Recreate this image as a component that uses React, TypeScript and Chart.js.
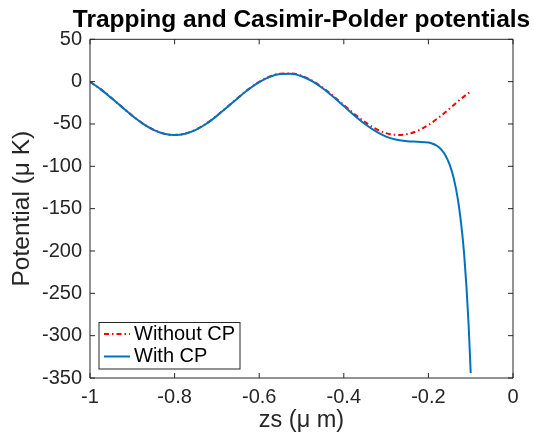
import React, { useEffect, useRef } from "react";
import { Chart, registerables } from "chart.js";

Chart.register(...registerables);

const titleText = "Trapping and Casimir-Polder potentials";
const xLabel = "zs (\u03bc m)";
const yLabel = "Potential (\u03bc K)";
const seriesLabels = ["Without CP", "With CP"];

const zsWithout = [
  -1, -0.975, -0.95, -0.925, -0.9, -0.875, -0.85, -0.825, -0.8, -0.775, -0.75, -0.725,
  -0.7, -0.675, -0.65, -0.625, -0.6, -0.575, -0.55, -0.525, -0.5, -0.475, -0.45, -0.425,
  -0.4, -0.375, -0.35, -0.325, -0.3, -0.275, -0.25, -0.225, -0.2, -0.175, -0.15, -0.125, -0.1,
];
const potWithout = [
  -0.3, -8.8, -19.0, -29.7, -40.2, -49.5, -56.8, -61.4, -63.0, -61.4, -56.8, -49.5,
  -40.2, -29.7, -19.0, -8.8, -0.3, 6.0, 9.4, 9.7, 6.9, 1.2, -7.0, -16.9,
  -27.6, -38.2, -47.8, -55.5, -60.8, -62.9, -62.0, -58.0, -51.2, -42.2, -31.9, -21.1, -11.5,
];

const zsWith = [
  -1, -0.975, -0.95, -0.925, -0.9, -0.875, -0.85, -0.825, -0.8, -0.775, -0.75, -0.725,
  -0.7, -0.675, -0.65, -0.625, -0.6, -0.575, -0.55, -0.525, -0.5, -0.475, -0.45, -0.425,
  -0.4, -0.375, -0.35, -0.325, -0.3, -0.275, -0.25, -0.225, -0.2, -0.19, -0.18, -0.17,
  -0.16, -0.15, -0.14, -0.13, -0.12, -0.115, -0.11, -0.105, -0.1,
];
const potWith = [
  -0.3, -8.8, -19.1, -29.8, -40.3, -49.6, -56.9, -61.5, -63.1, -61.5, -57.0, -49.7,
  -40.4, -29.9, -19.2, -9.0, -0.55, 5.7, 9.0, 9.3, 6.4, 0.6, -7.8, -17.9,
  -28.9, -39.9, -50.0, -58.5, -64.9, -68.7, -70.5, -71.0, -72.0, -73.3, -75.7, -79.9,
  -86.9, -97.7, -114.3, -139.9, -179.6, -207.3, -242.3, -286.6, -344.0,
];

const X_MIN = -1;
const X_MAX = 0;
const X_STEP = 0.2;
const Y_MIN = -350;
const Y_MAX = 50;
const Y_STEP = 50;

const FONT = "'Liberation Sans', Arial, Helvetica, sans-serif";
const AXIS_COLOR = "#262626";

const boxAndTicks = {
  id: "boxAndTicks",
  afterDatasetsDraw(chart: any) {
    const { ctx, chartArea } = chart;
    const { left, right, top, bottom } = chartArea;
    const xs = chart.scales.x;
    const ys = chart.scales.y;
    const tl = 5;
    ctx.save();
    ctx.strokeStyle = AXIS_COLOR;
    ctx.lineWidth = 1;
    ctx.beginPath();
    ctx.rect(left, top, right - left, bottom - top);
    ctx.stroke();
    ctx.beginPath();
    xs.ticks.forEach((t: any) => {
      const px = xs.getPixelForValue(t.value);
      ctx.moveTo(px, bottom);
      ctx.lineTo(px, bottom - tl);
      ctx.moveTo(px, top);
      ctx.lineTo(px, top + tl);
    });
    ys.ticks.forEach((t: any) => {
      const py = ys.getPixelForValue(t.value);
      ctx.moveTo(left, py);
      ctx.lineTo(left + tl, py);
      ctx.moveTo(right, py);
      ctx.lineTo(right - tl, py);
    });
    ctx.stroke();
    ctx.restore();
  },
};

const plotTitle = {
  id: "plotTitle",
  afterDraw(chart: any) {
    const { ctx, chartArea } = chart;
    ctx.save();
    ctx.font = `bold 24.5px ${FONT}`;
    ctx.fillStyle = "#000000";
    ctx.textAlign = "center";
    ctx.textBaseline = "alphabetic";
    ctx.fillText(titleText, (chartArea.left + chartArea.right) / 2, 27);
    ctx.restore();
  },
};

const insideLegend = {
  id: "insideLegend",
  afterDraw(chart: any) {
    const { ctx, chartArea } = chart;
    const bx = chartArea.left + 9;
    const by = chartArea.bottom - 55.5;
    const bw = 141;
    const bh = 46.5;
    ctx.save();
    ctx.fillStyle = "#ffffff";
    ctx.fillRect(bx, by, bw, bh);
    ctx.strokeStyle = AXIS_COLOR;
    ctx.lineWidth = 1;
    ctx.strokeRect(bx, by, bw, bh);
    ctx.font = `20px ${FONT}`;
    ctx.textBaseline = "middle";
    ctx.textAlign = "left";
    const rows = [chart.data.datasets[0], chart.data.datasets[1]];
    rows.forEach((ds: any, i: number) => {
      const cy = by + 11.5 + i * 22.5;
      ctx.strokeStyle = ds.borderColor;
      ctx.lineWidth = ds.borderWidth;
      ctx.setLineDash(ds.borderDash || []);
      ctx.beginPath();
      ctx.moveTo(bx + 5, cy);
      ctx.lineTo(bx + 31, cy);
      ctx.stroke();
      ctx.setLineDash([]);
      ctx.fillStyle = "#000000";
      ctx.fillText(ds.label, bx + 35, cy);
    });
    ctx.restore();
  },
};

export default function App() {
  const ref = useRef<HTMLCanvasElement | null>(null);
  useEffect(() => {
    if (!ref.current) return;
    const chart = new Chart(ref.current, {
      type: "line",
      data: {
        datasets: [
          {
            label: seriesLabels[0],
            data: zsWithout.map((x, i) => ({ x, y: potWithout[i] })),
            borderColor: "#ff0000",
            borderWidth: 2,
            borderDash: [5, 3, 1.5, 3],
            pointRadius: 0,
            fill: false,
            cubicInterpolationMode: "monotone",
            order: 1,
          },
          {
            label: seriesLabels[1],
            data: zsWith.map((x, i) => ({ x, y: potWith[i] })),
            borderColor: "#0072bd",
            borderWidth: 2,
            pointRadius: 0,
            fill: false,
            cubicInterpolationMode: "monotone",
            order: 0,
          },
        ],
      },
      options: {
        responsive: false,
        animation: false,
        devicePixelRatio: 1,
        layout: { padding: { left: 0, right: 21, top: 39.3, bottom: 0 } },
        plugins: {
          legend: { display: false },
          tooltip: { enabled: false },
          title: { display: false },
        },
        scales: {
          x: {
            type: "linear",
            position: "bottom",
            min: X_MIN,
            max: X_MAX,
            grid: { display: false, drawTicks: false },
            border: { display: false },
            ticks: {
              stepSize: X_STEP,
              padding: 7,
              color: AXIS_COLOR,
              font: { family: FONT, size: 20 },
              maxRotation: 0,
              callback: (v: any) => String(Number(Number(v).toFixed(1))),
            },
            title: {
              display: true,
              text: xLabel,
              color: AXIS_COLOR,
              font: { family: FONT, size: 23.5 },
              padding: { top: 0, bottom: 0 },
            },
            afterFit: (s: any) => {
              s.height = 57;
            },
          },
          y: {
            type: "linear",
            position: "left",
            min: Y_MIN,
            max: Y_MAX,
            grid: { display: false, drawTicks: false },
            border: { display: false },
            ticks: {
              stepSize: Y_STEP,
              padding: 8,
              color: AXIS_COLOR,
              font: { family: FONT, size: 20 },
            },
            title: {
              display: true,
              text: yLabel,
              color: AXIS_COLOR,
              font: { family: FONT, size: 24.5 },
              padding: { top: 7.5, bottom: 0 },
            },
            afterFit: (s: any) => {
              s.width = 90;
            },
          },
        },
      },
      plugins: [boxAndTicks, plotTitle, insideLegend],
    });
    return () => chart.destroy();
  }, []);
  return (
    <div style={{ position: "fixed", left: 0, top: 0, width: 534, height: 435, background: "#fff" }}>
      <canvas ref={ref} width={534} height={435} style={{ width: 534, height: 435 }} />
    </div>
  );
}
